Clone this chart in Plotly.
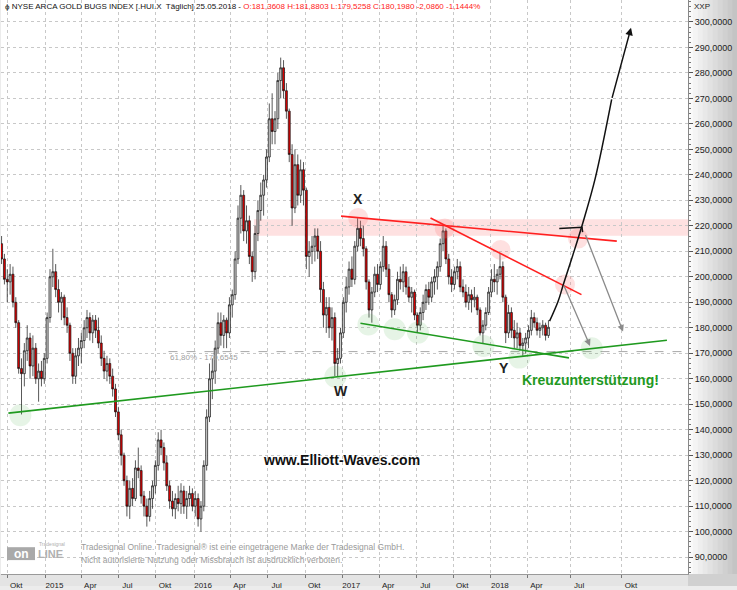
import plotly.graph_objects as go
import pandas as pd

# ---------------- data (weekly candles) ----------------
week_start = "2014-09-17"
opens = [213,207,199,198,201,190,182,164,162,171,176,165,172,160,163,160,
         168,184,200,202,195,190,192,184,181,170,161,169,172,175,180,184,178,183,179,174,168,163,166,161,156,147,138,130,120,110,117,113,125,124,114,110,106,113,118,126,136,133,127,118,112,109,113,111,116,110,113,115,
         110,113,105,110,126,145,160,163,172,182,177,183,178,189,193,207,223,232,218,222,208,202,217,226,232,238,247,262,257,262,277,282,273,265,248,227,244,232,242,234,208,210,212,216,210,195,185,188,180,184,166,168,
         178,190,196,203,199,212,219,215,211,198,187,194,201,197,204,212,203,193,187,191,199,198,202,196,192,194,185,181,186,190,195,192,198,200,204,213,218,207,200,197,202,204,196,194,190,193,191,192,187,178,181,186,
         194,199,198,201,204,192,178,186,179,176,178,173,174,176,179,184,182,179,180,181,177]
highs = [216,209,203,205,204,192,183,168,174,181,178,177,174,166,167,170,
         186,203,211,205,199,194,193,188,182,172,172,176,178,183,187,186,185,185,184,177,171,169,168,164,158,149,140,131,122,120,121,128,133,126,116,113,116,120,128,139,140,135,130,120,116,115,118,119,118,116,118,117,
         116,115,112,128,148,166,168,175,186,186,185,184,192,195,210,228,236,234,228,224,210,220,230,237,240,250,268,272,265,280,286,285,276,266,252,250,248,246,245,235,214,216,219,219,214,198,192,192,188,186,172,180,
         192,200,206,208,214,223,222,220,212,199,196,204,205,206,216,214,205,194,193,202,204,205,204,200,196,195,186,188,193,197,198,200,203,206,215,220,219,209,203,204,207,206,199,197,196,195,196,193,188,183,188,196,
         203,205,203,209,206,193,189,188,183,182,180,176,178,181,187,186,184,182,183,182,183]
lows = [205,197,190,193,188,180,162,146,157,167,160,161,158,151,157,158,
        166,182,196,192,186,183,181,178,167,158,158,165,166,172,176,175,174,176,172,165,160,159,158,153,145,136,126,118,106,105,110,112,121,111,106,102,104,109,115,124,130,124,116,109,106,105,108,107,107,105,110,108,
        106,102,100,108,124,143,152,158,170,173,172,172,176,184,191,205,217,214,213,205,198,199,214,222,224,235,245,252,252,258,270,270,262,245,220,225,228,229,228,203,200,205,206,207,190,180,178,176,175,161,161,166,
        176,186,193,196,197,210,212,208,195,184,182,192,194,195,202,200,190,184,185,189,195,194,193,190,186,183,178,179,183,187,189,190,193,195,202,210,205,197,194,195,199,194,192,188,187,186,188,185,177,174,179,185,
        192,194,193,199,190,174,176,176,172,172,171,169,170,172,177,180,177,176,177,175,176]
closes = [207,199,198,201,190,182,164,162,171,176,165,172,160,163,160,168,
          184,200,202,195,190,192,184,181,170,161,169,172,175,180,184,178,183,179,174,168,163,166,161,156,147,138,130,120,110,117,113,125,124,114,110,106,113,118,126,136,133,127,118,112,109,113,111,116,110,113,115,110,
          113,105,110,126,145,160,163,172,182,177,183,178,189,193,207,223,232,218,222,208,202,217,226,232,238,247,262,257,262,277,282,273,265,248,227,244,232,242,234,208,210,212,216,210,195,185,188,180,184,166,168,178,
          190,196,203,199,212,219,215,211,198,187,194,201,197,204,212,203,193,187,191,199,198,202,196,192,194,185,181,186,190,195,192,198,200,204,213,218,207,200,197,202,204,196,194,190,193,191,192,187,178,181,186,194,
          199,198,201,204,192,178,186,179,176,178,173,174,176,179,184,182,179,180,181,177,180.198]

tick_dates = ["2014-10-01", "2015-01-02", "2015-04-01", "2015-07-01", "2015-10-01",
              "2016-01-04", "2016-04-01", "2016-07-01", "2016-10-03", "2017-01-02",
              "2017-04-03", "2017-07-03", "2017-10-02", "2018-01-02", "2018-04-02",
              "2018-07-02", "2018-10-01"]
tick_text = ["Okt", "2015", "Apr", "Jul", "Okt", "2016", "Apr", "Jul", "Okt", "2017",
             "Apr", "Jul", "Okt", "2018", "Apr", "Jul", "Okt"]
y_ticks = list(range(90, 301, 10))

# drawn analysis lines (date, price)
red1_x = ["2016-12-29", "2018-09-22"]; red1_y = [223.8, 214.0]
red2_x = ["2017-08-07", "2018-07-22"]; red2_y = [223.1, 193.0]
grn1_x = ["2014-10-03", "2018-12-19"]; grn1_y = [146.5, 175.1]
grn2_x = ["2017-02-15", "2018-06-30"]; grn2_y = [181.8, 168.2]
blk_x = ["2018-05-25", "2018-06-11", "2018-06-20", "2018-07-07", "2018-07-25", "2018-08-15", "2018-09-13"]
blk_y = [182.6, 190.4, 196.9, 208.6, 221.6, 238.5, 269.6]
blk_tip = ("2018-10-17", 297.7)
gry_arrows = [(("2018-07-28", 217.0), ("2018-10-03", 178.5)),
              (("2018-06-20", 197.2), ("2018-08-06", 172.9))]
mark_x = ["2018-06-13", "2018-07-23", "2018-07-24"]; mark_y = [219.0, 219.4, 217.5]
red_circ_x = ["2017-02-09", "2017-09-11", "2018-01-25", "2018-06-23", "2018-07-16"]
red_circ_y = [223.1, 219.0, 210.5, 197.0, 215.0]
grn_circ_x = ["2014-11-03", "2016-12-15", "2017-03-07", "2017-05-10", "2017-07-06",
              "2017-12-14", "2018-03-13", "2018-08-09"]
grn_circ_y = [145.7, 160.8, 181.3, 179.4, 178.1, 172.9, 168.3, 172.0]
band_x = ["2016-05-30", "2019-01-25"]; band_y = [216.1, 222.6]
fib_level = 170.6545
fib_start = "2015-11-02"

x_range = ["2014-09-16", "2019-01-25"]
y_range = [83.4, 308.6]

# ---------------- figure ----------------
dates = pd.date_range(week_start, periods=len(closes), freq="7D")
weekend_days = [d.strftime("%Y-%m-%d") for d in pd.date_range("2014-09-13", "2018-05-27")
                if d.dayofweek >= 5]

fig = go.Figure()

W, H = 737, 590
ML, MR, MT, MB = 1, 49, 0, 12
PW, PH = W - ML - MR, H - MT - MB
def px(x):  # pixel -> paper x
    return (x - ML) / PW
def py(y):  # pixel -> paper y
    return (H - MB - y) / PH

shapes = []
# right panel gradient
cols = ["#fafafa", "#f4f4f4", "#eeeeee", "#e8e8e8", "#e2e2e2", "#dcdcdc", "#d6d6d6", "#d0d0d0", "#cacaca", "#c4c4c4"]
for i, c in enumerate(cols):
    x0 = 688 + i * 4.9
    shapes.append(dict(type="rect", xref="paper", yref="paper", x0=px(x0), x1=px(x0 + 5.2),
                       y0=py(H), y1=py(0), fillcolor=c, line=dict(width=0), layer="below"))
# bottom band
shapes.append(dict(type="rect", xref="paper", yref="paper", x0=px(0), x1=px(688),
                   y0=py(590), y1=py(578), fillcolor="#e4e4e4", line=dict(width=0), layer="below"))
shapes.append(dict(type="rect", xref="paper", yref="paper", x0=px(688), x1=px(737),
                   y0=py(590), y1=py(578), fillcolor="#d0d0d0", line=dict(width=0), layer="below"))
# pink resistance band
shapes.append(dict(type="rect", xref="x", yref="y", x0=band_x[0], x1=band_x[1],
                   y0=band_y[0], y1=band_y[1], fillcolor="rgba(250,120,120,0.22)",
                   line=dict(width=0), layer="below"))
# fib dashed line
shapes.append(dict(type="line", xref="x", yref="y", x0=fib_start, x1=x_range[1],
                   y0=fib_level, y1=fib_level, line=dict(color="#a8a8a8", width=1, dash="dash"), layer="below"))

fig.add_trace(go.Scatter(x=red_circ_x, y=red_circ_y, mode="markers",
                         marker=dict(size=20, color="rgba(250,130,130,0.25)", line=dict(width=0)),
                         hoverinfo="skip"))
fig.add_trace(go.Scatter(x=grn_circ_x, y=grn_circ_y, mode="markers",
                         marker=dict(size=22, color="rgba(60,170,60,0.13)", line=dict(width=0)),
                         hoverinfo="skip"))

fig.add_trace(go.Candlestick(
    x=dates, open=opens, high=highs, low=lows, close=closes,
    increasing=dict(line=dict(color="#111111", width=0.7), fillcolor="#d4d4d4"),
    decreasing=dict(line=dict(color="#111111", width=0.7), fillcolor="#e00000"),
    whiskerwidth=0, hoverinfo="skip"))

for xs, ys, c in [(red1_x, red1_y, "#ff2020"), (red2_x, red2_y, "#ff2020"),
                  (grn1_x, grn1_y, "#1f9a1f"), (grn2_x, grn2_y, "#1f9a1f")]:
    fig.add_trace(go.Scatter(x=xs, y=ys, mode="lines", line=dict(color=c, width=1.6), hoverinfo="skip"))

fig.add_trace(go.Scatter(x=blk_x, y=blk_y, mode="lines", line=dict(color="#111111", width=1.5, shape="spline"),
                         hoverinfo="skip"))
fig.add_trace(go.Scatter(x=mark_x, y=mark_y, mode="lines", line=dict(color="#111111", width=1.5),
                         hoverinfo="skip"))

ann = []
ann.append(dict(x=blk_tip[0], y=blk_tip[1], ax=blk_x[-1], ay=blk_y[-1], xref="x", yref="y",
                axref="x", ayref="y", showarrow=True, arrowhead=2, arrowsize=1, arrowwidth=1.5,
                arrowcolor="#111111", text=""))
for (s, e) in gry_arrows:
    ann.append(dict(x=e[0], y=e[1], ax=s[0], ay=s[1], xref="x", yref="y", axref="x", ayref="y",
                    showarrow=True, arrowhead=2, arrowsize=1, arrowwidth=1.3, arrowcolor="#8a8a8a", text=""))

def label(text, x, y, size, color, bold=True, xanchor="center", family="Liberation Sans"):
    t = "<b>%s</b>" % text if bold else text
    ann.append(dict(x=x, y=y, xref="x", yref="y", text=t, showarrow=False, xanchor=xanchor,
                    yanchor="middle", font=dict(size=size, color=color, family=family)))

label("X", "2017-02-09", 230.7, 14, "#222222")
label("W", "2016-12-29", 155.1, 14, "#222222")
label("Y", "2018-02-02", 164.2, 14, "#222222")
label("Kreuzunterstützung!", "2018-08-06", 159.4, 14, "#229922")
label("www.Elliott-Waves.com", "2016-12-30", 128.2, 14, "#111111")
label("61,80% - 170,6545", fib_start, 168.3, 8, "#a0a0a0", bold=False, xanchor="left")

hdr = ("ϕ NYSE ARCA GOLD BUGS INDEX [.HUI.X  Täglich] 25.05.2018 - "
       "<span style='color:#ff2020'>O:181,3608 H:181,8803 L:179,5258 C:180,1980 -2,0860 -1,1444%</span>")
ann.append(dict(x=px(3), y=py(7), xref="paper", yref="paper", text=hdr, showarrow=False,
                xanchor="left", yanchor="middle", font=dict(size=8, color="#111111", family="Liberation Sans")))
ann.append(dict(x=px(692), y=py(7), xref="paper", yref="paper", text="XXP", showarrow=False,
                xanchor="left", yanchor="middle", font=dict(size=8, color="#222222", family="Liberation Sans")))
# footer / logo
shapes.append(dict(type="rect", xref="paper", yref="paper", x0=px(7), x1=px(35), y0=py(564), y1=py(551),
                   fillcolor="#a9a9a9", line=dict(width=0)))
ann.append(dict(x=px(21), y=py(557.5), xref="paper", yref="paper", text="<b>on</b>", showarrow=False,
                xanchor="center", yanchor="middle", font=dict(size=12, color="white", family="Liberation Sans")))
ann.append(dict(x=px(36), y=py(558), xref="paper", yref="paper", text="<b>LINE</b>", showarrow=False,
                xanchor="left", yanchor="middle", font=dict(size=11, color="#b0b0b0", family="Liberation Sans")))
ann.append(dict(x=px(37), y=py(548), xref="paper", yref="paper", text="Tradesignal", showarrow=False,
                xanchor="left", yanchor="middle", font=dict(size=5, color="#b0b0b0", family="Liberation Sans")))
ann.append(dict(x=px(79), y=py(551), xref="paper", yref="paper",
                text="Tradesignal Online. Tradesignal® ist eine eingetragene Marke der Tradesignal GmbH.",
                showarrow=False, xanchor="left", yanchor="middle",
                font=dict(size=8.5, color="#9a9a9a", family="Liberation Sans")))
ann.append(dict(x=px(79), y=py(564), xref="paper", yref="paper",
                text="Nicht autorisierte Nutzung oder Missbrauch ist ausdrücklich verboten.",
                showarrow=False, xanchor="left", yanchor="middle",
                font=dict(size=8.5, color="#9a9a9a", family="Liberation Sans")))

fig.update_layout(
    width=W, height=H, autosize=False,
    margin=dict(l=ML, r=MR, t=MT, b=MB, pad=0),
    paper_bgcolor="#ececec", plot_bgcolor="white",
    showlegend=False, separators=",.",
    shapes=shapes, annotations=ann,
    font=dict(family="Liberation Sans", size=9, color="#222222"),
    xaxis=dict(type="date", range=x_range, rangeslider=dict(visible=False),
               rangebreaks=[dict(values=weekend_days)],
               tickmode="array", tickvals=tick_dates, ticktext=tick_text,
               ticks="outside", ticklen=3, tickcolor="#777777", ticklabelshift=9,
               tickfont=dict(size=8, color="#222222"),
               showgrid=True, gridcolor="#c8c8c8", griddash="dot", gridwidth=1,
               showline=True, linecolor="#9a9a9a", linewidth=1, zeroline=False),
    yaxis=dict(side="right", range=y_range, tickmode="array", tickvals=y_ticks,
               tickformat=".4f", ticks="outside", ticklen=4, tickcolor="#555555",
               minor=dict(dtick=2, ticks="outside", ticklen=2, tickcolor="#777777", showgrid=False),
               tickfont=dict(size=9, color="#222222"),
               showgrid=True, gridcolor="#c8c8c8", griddash="dot", gridwidth=1,
               showline=True, linecolor="#888888", linewidth=1, zeroline=False),
)

fig.write_html("out.html", config={"displayModeBar": False, "staticPlot": True},
               post_script="document.body.style.margin='0';document.body.style.overflow='hidden';")
